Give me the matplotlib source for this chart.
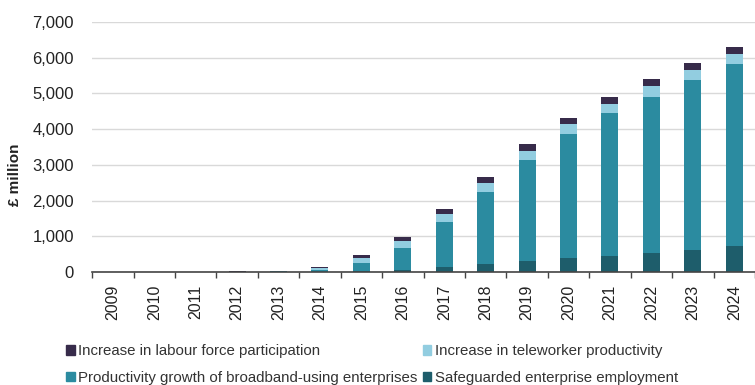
import numpy as np
import matplotlib
matplotlib.use('Agg')
from matplotlib import pyplot as plt
from matplotlib.patches import Patch

plt.rcParams['font.family'] = ['Liberation Sans', 'DejaVu Sans']

years = ['2009', '2010', '2011', '2012', '2013', '2014', '2015', '2016',
         '2017', '2018', '2019', '2020', '2021', '2022', '2023', '2024']

# £ million (bottom to top)
safeguarded = [0, 0, 2, 4, 8, 10, 35, 60, 150, 220, 310, 385, 450, 540, 620, 720]
productivity = [0, 0, 3, 6, 17, 60, 209, 620, 1242, 2030, 2818, 3472, 4004, 4362, 4758, 5106]
teleworker = [0, 0, 2, 4, 6, 30, 139, 188, 224, 251, 261, 289, 252, 308, 280, 280]
labour = [0, 0, 3, 6, 9, 50, 93, 122, 149, 169, 188, 168, 196, 196, 196, 194]

series_names = ['Safeguarded enterprise employment',
                'Productivity growth of broadband-using enterprises',
                'Increase in teleworker productivity',
                'Increase in labour force participation']
colors = ['#1e5d6b', '#2b8ba0', '#92cde0', '#372b4a']

fig = plt.figure(figsize=(7.55, 3.85), dpi=100)
ax = fig.add_axes([0.122, 0.2935, 0.878, 0.6495])

x = np.arange(len(years))
bottom = np.zeros(len(years))
for vals, col in zip([safeguarded, productivity, teleworker, labour], colors):
    ax.bar(x, vals, width=0.41, bottom=bottom, color=col, zorder=3)
    bottom += np.array(vals)

ax.set_xlim(-0.5, len(years) - 0.5)
ax.set_ylim(0, 7000)
ax.set_yticks(range(0, 7001, 1000))
ax.set_yticklabels([f'{v:,}' for v in range(0, 7001, 1000)])
ax.yaxis.grid(True, color='#d9d9d9', lw=1, zorder=0)

ax.set_xticks(x)
ax.set_xticklabels(years, rotation=90)
ax.set_xticks(np.arange(-0.5, len(years), 1), minor=True)
ax.tick_params(axis='x', which='major', length=0, pad=9, labelsize=11.5, colors='#222222')
ax.tick_params(axis='x', which='minor', length=4, width=1, color='#444444', direction='out')
ax.tick_params(axis='y', length=0, pad=13, labelsize=12, colors='#222222')

for s in ['top', 'right', 'left']:
    ax.spines[s].set_visible(False)
ax.spines['bottom'].set_color('#444444')
ax.spines['bottom'].set_linewidth(1.2)
ax.spines['bottom'].set_zorder(4)

fig.text(0.02, 0.545, '£ million', rotation=90, fontsize=11, fontweight='bold',
         ha='center', va='center', color='#222222')

handles = [Patch(color=c) for c in colors]
order = [3, 1, 2, 0]
fig.legend([handles[i] for i in order], [series_names[i] for i in order],
           ncol=2, loc='lower left', bbox_to_anchor=(0.07, -0.035),
           frameon=False, fontsize=10.8, handlelength=0.55, handleheight=0.6,
           handletextpad=0.25, columnspacing=0.35, labelspacing=0.85,
           labelcolor='#333333')

fig.savefig('out.png', dpi=100)
